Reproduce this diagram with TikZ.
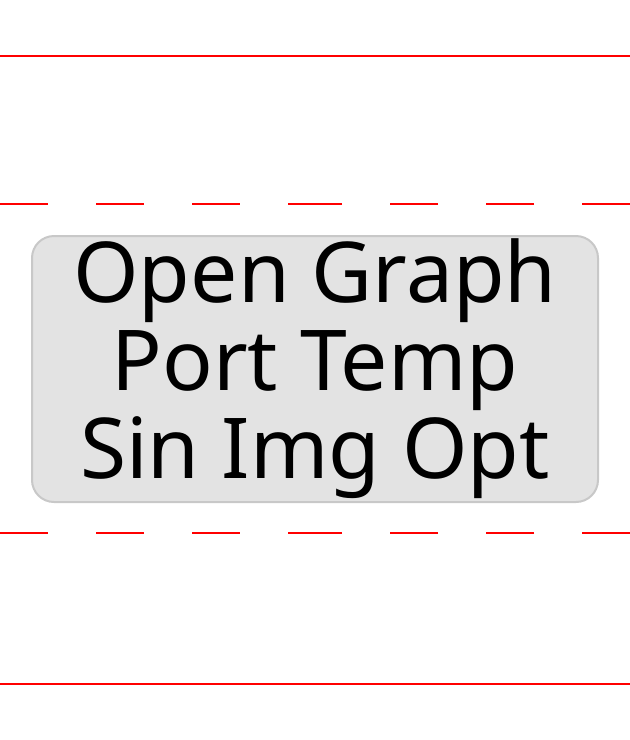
\documentclass[tikz,border=0pt]{standalone}
\usepackage{fontspec}
\setmainfont{Noto Sans}
\usepackage{tikz}

\definecolor{boxfill}{HTML}{E3E3E3}
\definecolor{boxline}{HTML}{C8C8C8}

\tikzset{
	guide/.style={red,line width=2pt},
	guidedash/.style={guide,dash pattern=on 48pt off 48pt},
	label/.style={draw=boxline,fill=boxfill,line width=2pt,rounded corners=22pt,
		minimum width=566pt,minimum height=266pt,align=center,inner sep=0pt,
		font=\fontsize{84}{88}\selectfont}
}

\begin{document}
\begin{tikzpicture}[x=1pt,y=-1pt]
	\useasboundingbox (0,0) rectangle (630,740);
	
	% outer guide lines
	\draw[guide] (0,56) -- (630,56);
	\draw[guide] (0,684) -- (630,684);
	% inner guide lines, dashed in from both edges
	\foreach \y in {204,533} {
		\draw[guidedash] (0,\y) -- (315,\y);
		\draw[guidedash] (630,\y) -- (315,\y);
	}
	
	\node[label] (title) at (315,369) {Open Graph\\Port Temp\\Sin Img Opt};
	
\end{tikzpicture}
\end{document}
